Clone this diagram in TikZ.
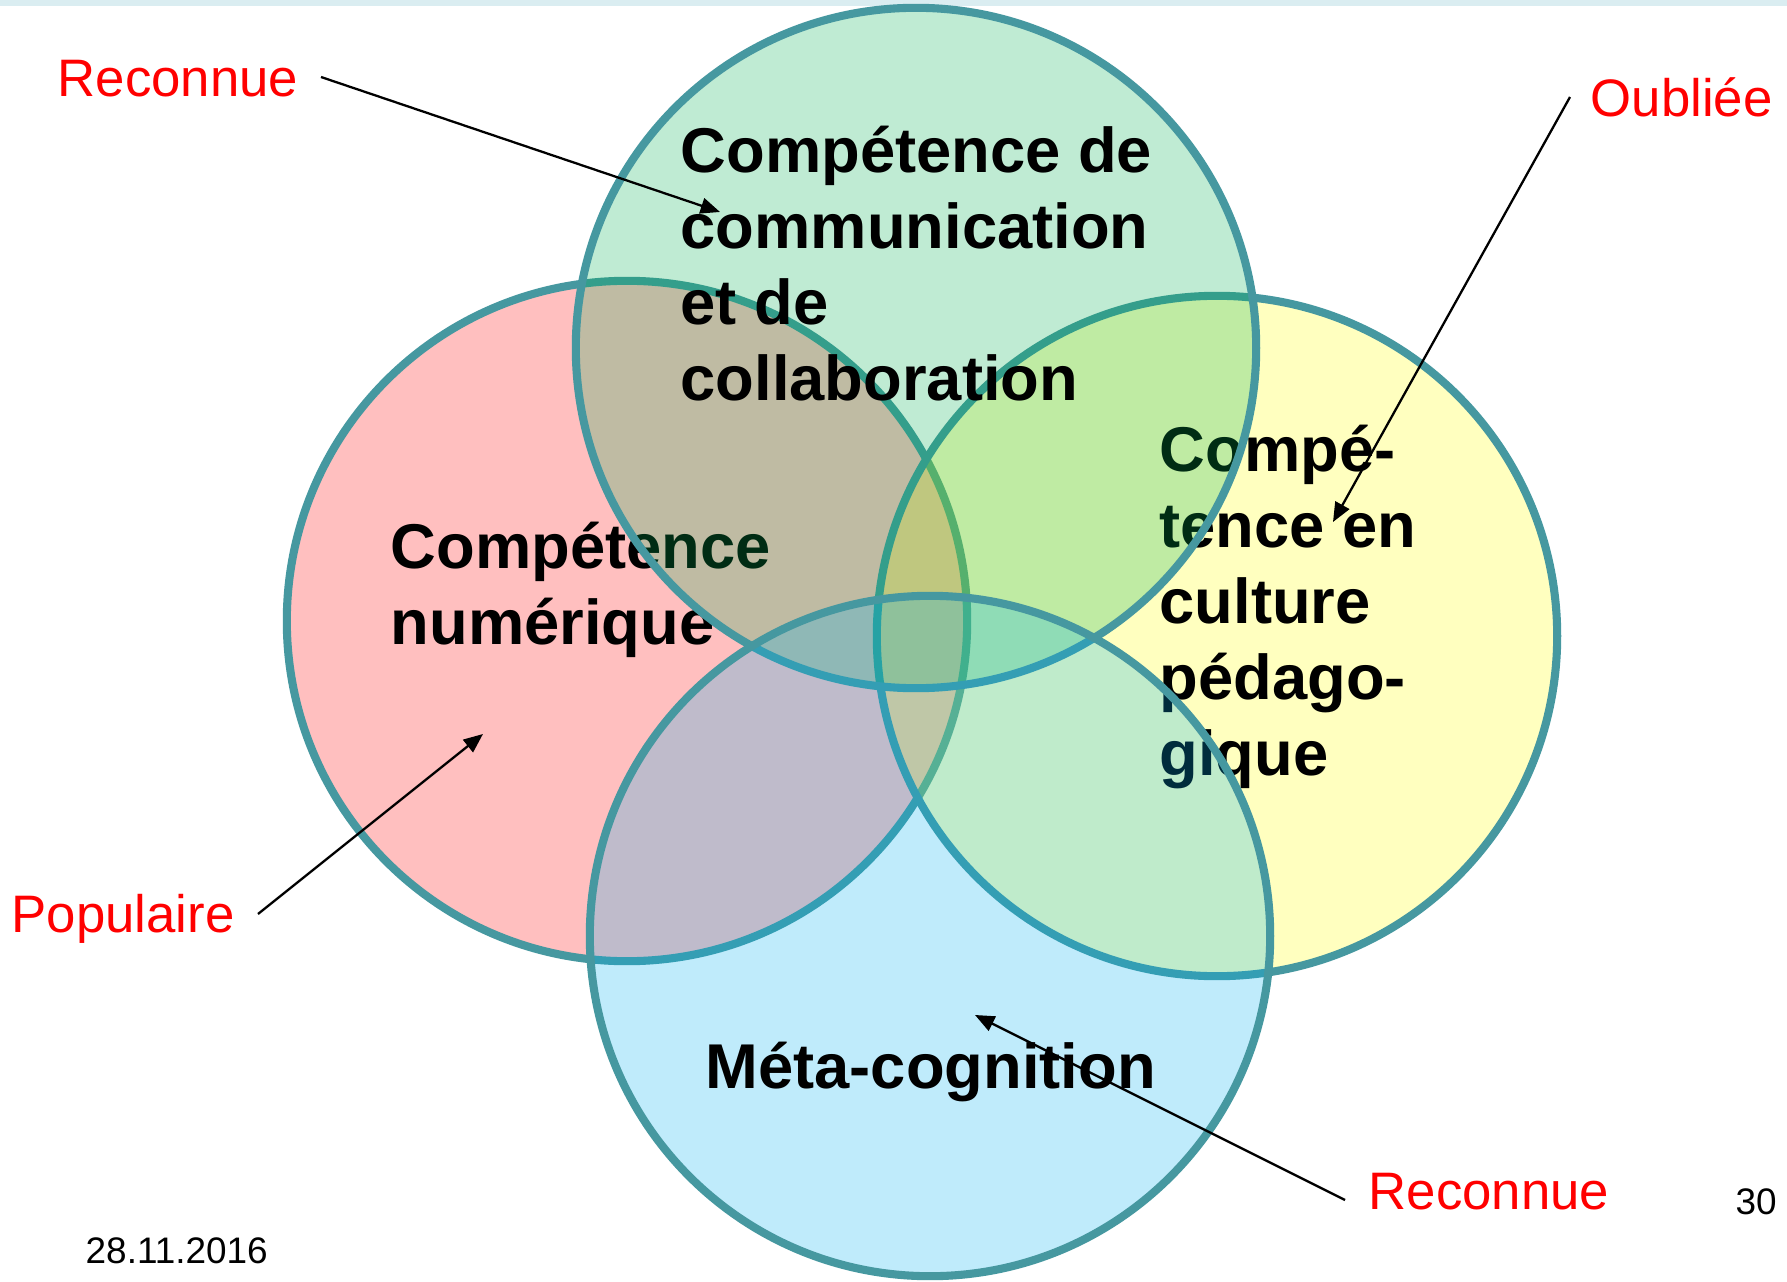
\documentclass[tikz,border=0pt]{standalone}
\usepackage{fontspec}
\setmainfont{Liberation Sans}
\usetikzlibrary{arrows.meta}
\definecolor{ring}{RGB}{70,152,160}
\definecolor{cred}{RGB}{255,0,0}
\definecolor{cyellow}{RGB}{255,255,0}
\definecolor{cgreen}{RGB}{0,176,80}
\definecolor{cblue}{RGB}{0,176,240}
\definecolor{topbar}{RGB}{218,237,241}
\begin{document}
\begin{tikzpicture}[x=0.01cm,y=-0.01cm,
  venn/.style={circle, draw=ring, line width=2.3pt, inner sep=0pt, minimum size=6.8cm, fill opacity=0.25, draw opacity=1},
  ctext/.style={font=\bfseries\fontsize{18}{21.6}\selectfont, align=left, inner sep=0pt, anchor=base west, text=black},
  note/.style={text=cred, font=\fontsize{15}{18}\selectfont, inner sep=0pt, anchor=base west},
  small/.style={text=black, font=\fontsize{10.5}{12}\selectfont, inner sep=0pt, anchor=base west},
  pointer/.style={draw=black, line width=0.65pt, -{Triangle[length=5.5pt,width=4.5pt]}}]
\useasboundingbox (0,0) rectangle (1787,1282);
\fill[white] (0,0) rectangle (1787,1282);
\fill[topbar] (0,0) rectangle (1787,6);
% left circle
\node[venn, fill=cred] (cleft) at (627,621) {};
\node[ctext] (tleft) at (390,644) {Compétence\\numérique};
% right circle
\node[venn, fill=cyellow] (cright) at (1217,636) {};
\node[ctext] (tright) at (1159,775) {Compé-\\tence en\\culture\\pédago-\\gique};
% top circle
\node[venn, fill=cgreen] (ctop) at (916,348) {};
\node[ctext] (ttop) at (680,400) {Compétence de\\communication\\et de\\collaboration};
% bottom circle
\node[venn, fill=cblue] (cbot) at (930,936) {};
\node[ctext] (tbot) at (705,1088) {Méta-cognition};
% labels
\node[note] (lab1) at (57,97) {Reconnue};
\node[note] (lab2) at (1590,117) {Oubliée};
\node[note] (lab3) at (11,932) {Populaire};
\node[note] (lab4) at (1368,1209) {Reconnue};
\coordinate (s1) at (321,77);
\coordinate (e1) at (720,212);
\coordinate (s2) at (1570,97);
\coordinate (e2) at (1333,522);
\coordinate (s3) at (258,914);
\coordinate (e3) at (483,734);
\coordinate (s4) at (1345,1200);
\coordinate (e4) at (975,1015);
\draw[pointer] (s1) -- (e1);
\draw[pointer] (s2) -- (e2);
\draw[pointer] (s3) -- (e3);
\draw[pointer] (s4) -- (e4);
\node[small] (date) at (85,1263) {28.11.2016};
\node[small] (page) at (1735,1214) {30};
\end{tikzpicture}
\end{document}
